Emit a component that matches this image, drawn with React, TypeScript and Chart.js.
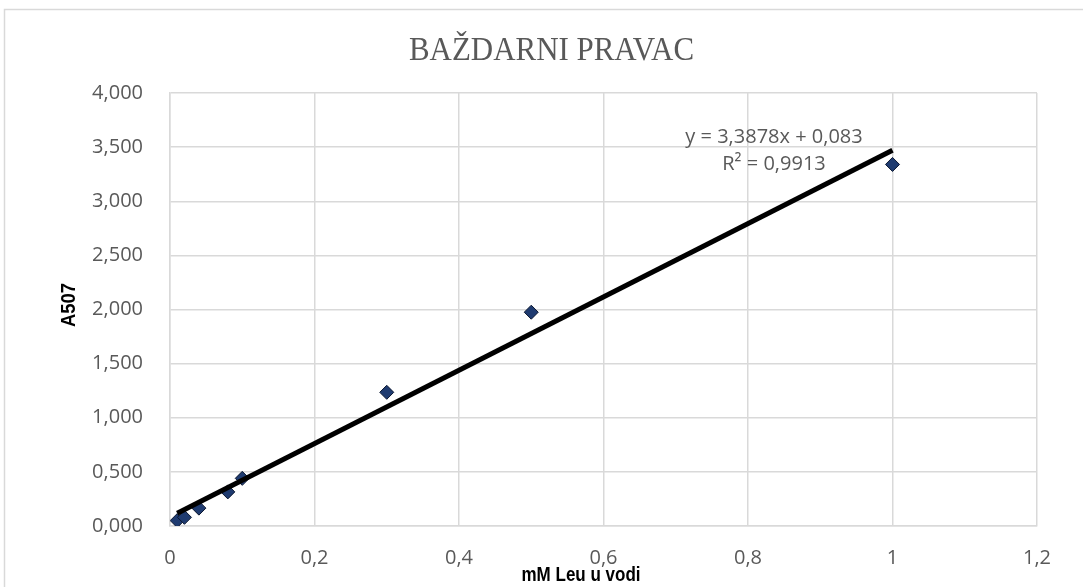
import React, { useEffect, useRef } from 'react';
import { Chart, registerables } from 'chart.js';

Chart.register(...registerables);

// ---- data ----
const concentrations = [0.01, 0.02, 0.04, 0.08, 0.1, 0.3, 0.5, 1];
const absorbances = [0.05, 0.08, 0.165, 0.315, 0.44, 1.235, 1.975, 3.34];
const trendSlope = 3.3878;
const trendIntercept = 0.083;
const equationLines = ['y = 3,3878x + 0,083', 'R² = 0,9913'];
const xTickLabels = ['0', '0,2', '0,4', '0,6', '0,8', '1', '1,2'];
const yTickLabels = ['0,000', '0,500', '1,000', '1,500', '2,000', '2,500', '3,000', '3,500', '4,000'];
const chartTitle = 'BAŽDARNI PRAVAC';
const xAxisTitle = 'mM Leu u vodi';
const yAxisTitle = 'A507';

const TICK_FONT = '"Open Sans", "Liberation Sans", sans-serif';
const AXIS_TITLE_FONT = 'bold 21px "Liberation Sans", Arial, sans-serif';

const decorPlugin = {
  id: 'decor',
  beforeDraw(chart: any) {
    const ctx = chart.ctx;
    ctx.save();
    ctx.fillStyle = '#ffffff';
    ctx.fillRect(0, 0, chart.width, chart.height);
    ctx.strokeStyle = '#d9d9d9';
    ctx.lineWidth = 1.5;
    ctx.strokeRect(4.5, 9.5, chart.width + 50, chart.height + 50);
    ctx.restore();
  },
  afterDraw(chart: any) {
    const ctx = chart.ctx;
    const xs = chart.scales.x;
    const ys = chart.scales.y;

    // chart title
    ctx.save();
    ctx.fillStyle = '#595959';
    ctx.font = '34px "Liberation Serif", "DejaVu Serif", serif';
    ctx.textAlign = 'center';
    ctx.textBaseline = 'alphabetic';
    ctx.translate(551.5, 60);
    ctx.scale(0.91, 1);
    ctx.fillText(chartTitle, 0, 0);
    ctx.restore();

    // x axis title (condensed bold)
    ctx.save();
    ctx.fillStyle = '#000000';
    ctx.font = AXIS_TITLE_FONT;
    ctx.textAlign = 'center';
    ctx.textBaseline = 'alphabetic';
    ctx.translate(581, 581);
    ctx.scale(0.81, 1);
    ctx.fillText(xAxisTitle, 0, 0);
    ctx.restore();

    // y axis title (rotated, condensed bold)
    ctx.save();
    ctx.fillStyle = '#000000';
    ctx.font = AXIS_TITLE_FONT;
    ctx.textAlign = 'center';
    ctx.textBaseline = 'alphabetic';
    ctx.translate(75, 305);
    ctx.rotate(-Math.PI / 2);
    ctx.scale(0.88, 1);
    ctx.fillText(yAxisTitle, 0, 0);
    ctx.restore();

    // trendline equation label
    ctx.save();
    ctx.fillStyle = '#595959';
    ctx.font = '20px ' + TICK_FONT;
    ctx.textAlign = 'center';
    ctx.textBaseline = 'middle';
    const cx = xs.getPixelForValue(0.836);
    ctx.fillText(equationLines[0], cx, ys.getPixelForValue(3.594));
    ctx.fillText(equationLines[1], cx, ys.getPixelForValue(3.344));
    ctx.restore();
  },
};

export default function App() {
  const canvasRef = useRef<HTMLCanvasElement | null>(null);

  useEffect(() => {
    document.body.style.margin = '0';
    const canvas = canvasRef.current;
    if (!canvas) return;

    const xMin = Math.min(...concentrations);
    const xMax = Math.max(...concentrations);
    const points = concentrations.map((x, i) => ({ x, y: absorbances[i] }));
    const trend = [
      { x: xMin, y: trendSlope * xMin + trendIntercept },
      { x: xMax, y: trendSlope * xMax + trendIntercept },
    ];

    const chart = new Chart(canvas, {
      type: 'scatter',
      data: {
        datasets: [
          {
            label: 'Trend',
            data: trend,
            showLine: true,
            borderColor: '#000000',
            borderWidth: 5,
            pointRadius: 0,
            pointHoverRadius: 0,
            order: 0,
          },
          {
            label: 'A507',
            data: points,
            pointStyle: 'rectRot',
            pointRadius: 7,
            pointBackgroundColor: '#1f3b70',
            pointBorderColor: '#0b1730',
            pointBorderWidth: 1,
            showLine: false,
            order: 1,
          },
        ],
      },
      options: {
        responsive: false,
        animation: false,
        layout: { padding: { left: 0, right: 46, top: 93, bottom: 0 } },
        plugins: {
          legend: { display: false },
          tooltip: { enabled: false },
          title: { display: false },
        },
        scales: {
          x: {
            type: 'linear',
            min: 0,
            max: 1.2,
            ticks: {
              stepSize: 0.2,
              padding: 20,
              color: '#595959',
              font: { family: TICK_FONT, size: 20 },
              callback: (_v: any, i: number) => xTickLabels[i],
            },
            grid: { color: '#d9d9d9', lineWidth: 1.5, drawTicks: false },
            border: { color: '#d9d9d9', width: 1.5 },
            title: { display: false },
            afterFit: (scale: any) => {
              scale.height = 61;
            },
          },
          y: {
            type: 'linear',
            min: 0,
            max: 4,
            ticks: {
              stepSize: 0.5,
              padding: 27,
              color: '#595959',
              font: { family: TICK_FONT, size: 20 },
              callback: (_v: any, i: number) => yTickLabels[i],
            },
            grid: { color: '#d9d9d9', lineWidth: 1.5, drawTicks: false },
            border: { color: '#d9d9d9', width: 1.5 },
            title: { display: false },
            afterFit: (scale: any) => {
              scale.width = 170;
            },
          },
        },
      },
      plugins: [decorPlugin],
    });

    return () => chart.destroy();
  }, []);

  return (
    <div style={{ width: 1083, height: 587, overflow: 'hidden', background: '#fff' }}>
      <canvas ref={canvasRef} width={1083} height={587} style={{ display: 'block' }} />
    </div>
  );
}
